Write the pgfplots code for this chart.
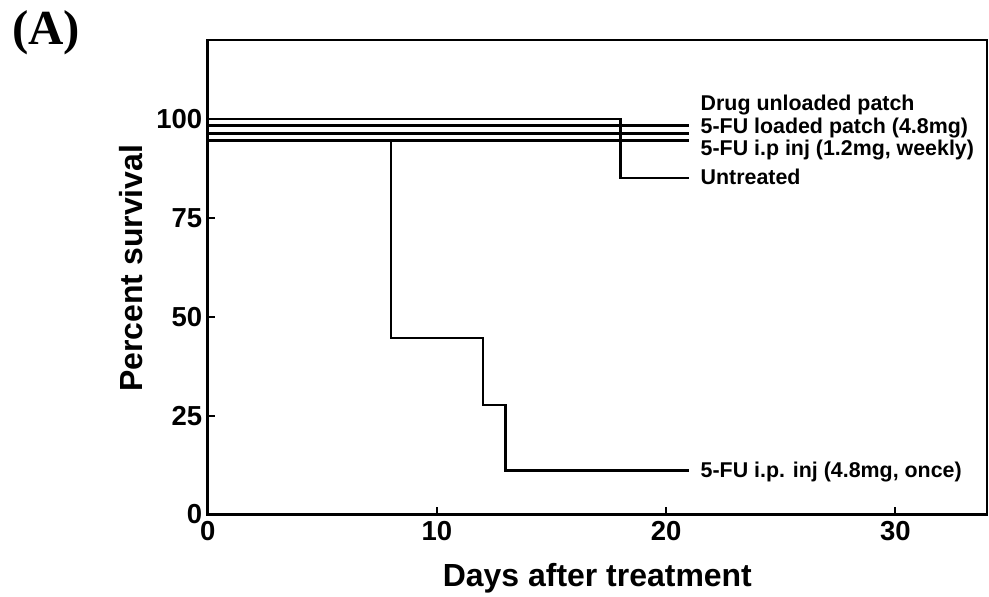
\documentclass[border=0pt]{standalone}
\usepackage{fontspec}
\setmainfont{Liberation Sans}
\newfontfamily\serifbf{Liberation Serif}
\usepackage{pgfplots}
\pgfplotsset{compat=1.18}
\usetikzlibrary{calc}

\begin{document}
\begin{tikzpicture}
\begin{axis}[
  scale only axis, width=780pt, height=475pt,
  xmin=0, xmax=34, ymin=0, ymax=120,
  xtick={0,10,20,30}, ytick={0,25,50,75,100},
  tick align=inside, xtick pos=bottom, ytick pos=left,
  major tick length=7pt,
  axis line style={line width=2.6pt, line cap=rect},
  tick style={line width=2.2pt, black},
  /pgf/number format/assume math mode=true,
  ticklabel style={font=\bfseries\fontsize{27.5}{27.5}\selectfont},
  xticklabel style={yshift=-3pt},
  yticklabel style={xshift=-2pt},
  xlabel={Days after treatment}, ylabel={Percent survival},
  label style={font=\bfseries\fontsize{32}{32}\selectfont},
  xlabel style={at={(axis description cs:0.5,-0.1526)}, anchor=base},
  ylabel style={at={(axis description cs:-0.0833,0.519)}, anchor=base},
  clip=false,
  cycle list={{black, line width=2.6pt, no markers}},
]
\coordinate (O) at (rel axis cs:0,0);
% Untreated
\addplot[black, line width=2.6pt] coordinates {(0,100) (18,100) (18,85.1) (21,85.1)};
% Drug unloaded patch
\addplot[black, line width=2.6pt] coordinates {(0,98.3) (21,98.3)};
% 5-FU loaded patch (4.8mg)
\addplot[black, line width=2.6pt] coordinates {(0,96.4) (21,96.4)};
% 5-FU i.p inj (1.2mg, weekly)
\addplot[black, line width=2.6pt] coordinates {(0,94.5) (21,94.5)};
% 5-FU i.p. inj (4.8mg, once)
\addplot[black, line width=2.6pt] coordinates {(0,94.5) (8,94.5) (8,44.6) (12,44.6) (12,27.7) (13,27.7) (13,11.1) (21,11.1)};

\begin{scope}[every node/.style={anchor=base west, inner sep=0pt, font=\bfseries\fontsize{21.4}{21.4}\selectfont}]
\node at (axis cs:21.5,102.1) {Drug unloaded patch};
\node at (axis cs:21.5,96.4) {5-FU loaded patch (4.8mg)};
\node at (axis cs:21.5,90.9) {5-FU i.p inj (1.2mg, weekly)};
\node at (axis cs:21.5,83.4) {Untreated};
\node at (axis cs:21.5,9.3) {5-FU i.p. inj (4.8mg, once)};
\end{scope}
\end{axis}
\node[anchor=base west, inner sep=0pt, font=\serifbf\bfseries\fontsize{49}{49}\selectfont] at ($(O)+(-196pt,470pt)$) {(A)};
\path ($(O)+(-208pt,-77pt)$) rectangle ($(O)+(782pt,515pt)$);
\end{tikzpicture}
\end{document}
